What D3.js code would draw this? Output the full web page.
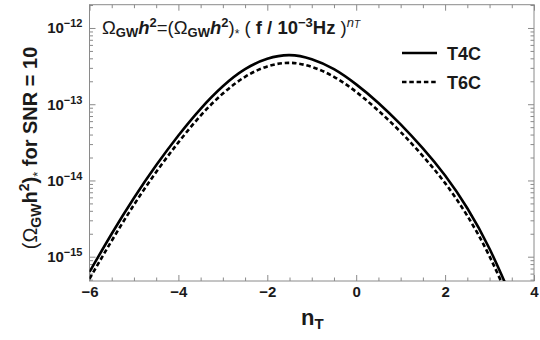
<!DOCTYPE html>
<html>
<head>
<meta charset="utf-8">
<script src="https://cdn.jsdelivr.net/npm/d3@7"></script>
<style>
  html, body { margin: 0; padding: 0; background: #fff; }
  svg { display: block; font-family: "Liberation Sans", Arial, sans-serif; }
</style>
</head>
<body>
<svg id="chart" width="540" height="340"></svg>
<script>
// Spectral index n_T sampled on a 0.5 grid
const nT = [-6.0, -5.5, -5.0, -4.5, -4.0, -3.5, -3.0, -2.5, -2.0, -1.5,
            -1.0, -0.5, 0.0, 0.5, 1.0, 1.5, 2.0, 2.5, 3.0, 3.5];

// (Omega_GW h^2)_* needed for SNR = 10, per detector configuration
const omegaT4C = [6.31e-16, 2.00e-15, 5.89e-15, 1.58e-14, 3.89e-14, 8.71e-14, 1.72e-13, 2.88e-13, 3.94e-13, 4.40e-13,
                  3.89e-13, 2.88e-13, 1.82e-13, 1.04e-13, 5.43e-14, 2.63e-14, 1.16e-14, 4.32e-15, 1.27e-15, 2.85e-16];
const omegaT6C = [5.13e-16, 1.62e-15, 4.79e-15, 1.29e-14, 3.16e-14, 7.08e-14, 1.38e-13, 2.29e-13, 3.13e-13, 3.49e-13,
                  3.09e-13, 2.29e-13, 1.45e-13, 8.22e-14, 4.32e-14, 2.09e-14, 9.23e-15, 3.43e-15, 1.01e-15, 2.26e-16];

const seriesNames = ["T4C", "T6C"];
const xTicks = [-6, -4, -2, 0, 2, 4];
const yTickExponents = [-12, -13, -14, -15];

const svg = d3.select("#chart");
const plotLeft = 89.5, plotRight = 534, plotTop = 4.7, plotBottom = 281;

const x = d3.scaleLinear().domain([-6, 4]).range([plotLeft, plotRight]);
const y = d3.scaleLog().domain([4.8e-16, 2.02e-12]).range([plotBottom, plotTop]);

const frameColor = "#8a8a8a";
const labelColor = "#1a1a1a";

// Minor ticks: every 0.5 in n_T, and 2..9 within each decade
const xMinor = d3.range(-6, 4.001, 0.5).filter(v => !xTicks.includes(v));
const yMajor = yTickExponents.map(e => Math.pow(10, e));
const yMinor = [];
for (let e = -16; e <= -12; e++) {
  for (let m = 2; m <= 9; m++) {
    const v = m * Math.pow(10, e);
    if (v >= 4.8e-16 && v <= 2.02e-12) yMinor.push(v);
  }
}

function styleTicks(g) {
  g.select(".domain").remove();
  g.selectAll(".tick line").attr("stroke", frameColor).attr("stroke-width", 1);
}

// Bottom axis with labels, top axis mirrored without labels
svg.append("g").attr("transform", `translate(0,${plotBottom})`)
  .call(d3.axisBottom(x).tickValues(xTicks).tickSize(-6).tickPadding(5).tickFormat(d3.format("d")))
  .call(styleTicks)
  .call(g => g.selectAll(".tick text")
    .attr("fill", labelColor).attr("font-size", 15).attr("font-weight", "bold")
    .attr("font-family", "Liberation Sans, Arial, sans-serif"));
svg.append("g").attr("transform", `translate(0,${plotBottom})`)
  .call(d3.axisBottom(x).tickValues(xMinor).tickSize(-3.5).tickFormat(""))
  .call(styleTicks);
svg.append("g").attr("transform", `translate(0,${plotTop})`)
  .call(d3.axisTop(x).tickValues(xTicks).tickSize(-6).tickFormat(""))
  .call(styleTicks);
svg.append("g").attr("transform", `translate(0,${plotTop})`)
  .call(d3.axisTop(x).tickValues(xMinor).tickSize(-3.5).tickFormat(""))
  .call(styleTicks);

// Left axis with power-of-ten labels, right axis mirrored
const yAxisLeft = svg.append("g").attr("transform", `translate(${plotLeft},0)`)
  .call(d3.axisLeft(y).tickValues(yMajor).tickSize(-6).tickFormat(""))
  .call(styleTicks);
yAxisLeft.selectAll(".tick").each(function(d) {
  const t = d3.select(this).append("text")
    .attr("x", -7).attr("dy", "0.32em")
    .attr("text-anchor", "end")
    .attr("fill", labelColor).attr("font-size", 15).attr("font-weight", "bold");
  t.append("tspan").text("10");
  t.append("tspan").attr("font-size", 11).attr("dy", -6)
    .text("\u2212" + Math.abs(Math.round(Math.log10(d))));
});
svg.append("g").attr("transform", `translate(${plotLeft},0)`)
  .call(d3.axisLeft(y).tickValues(yMinor).tickSize(-3.5).tickFormat(""))
  .call(styleTicks);
svg.append("g").attr("transform", `translate(${plotRight},0)`)
  .call(d3.axisRight(y).tickValues(yMajor).tickSize(-6).tickFormat(""))
  .call(styleTicks);
svg.append("g").attr("transform", `translate(${plotRight},0)`)
  .call(d3.axisRight(y).tickValues(yMinor).tickSize(-3.5).tickFormat(""))
  .call(styleTicks);

// Plot frame
svg.append("rect")
  .attr("x", plotLeft).attr("y", plotTop)
  .attr("width", plotRight - plotLeft).attr("height", plotBottom - plotTop)
  .attr("fill", "none").attr("stroke", frameColor).attr("stroke-width", 1);

// Curves, clipped to the frame
svg.append("clipPath").attr("id", "plot-clip")
  .append("rect").attr("x", plotLeft).attr("y", plotTop)
  .attr("width", plotRight - plotLeft).attr("height", plotBottom - plotTop);

const line = d3.line()
  .x(d => x(d[0]))
  .y(d => y(d[1]))
  .curve(d3.curveNatural);

const curves = svg.append("g").attr("clip-path", "url(#plot-clip)");
curves.append("path")
  .datum(nT.map((n, i) => [n, omegaT4C[i]]))
  .attr("d", line)
  .attr("fill", "none").attr("stroke", "#000").attr("stroke-width", 2.6);
curves.append("path")
  .datum(nT.map((n, i) => [n, omegaT6C[i]]))
  .attr("d", line)
  .attr("fill", "none").attr("stroke", "#000").attr("stroke-width", 2.6)
  .attr("stroke-dasharray", "4.5,2.8");

// Legend
const legend = svg.append("g");
seriesNames.forEach((name, i) => {
  const ly = 53 + i * 29;
  legend.append("line")
    .attr("x1", 402).attr("x2", 437).attr("y1", ly).attr("y2", ly)
    .attr("stroke", "#000").attr("stroke-width", 2.6)
    .attr("stroke-dasharray", i === 0 ? null : "4.5,2.8");
  legend.append("text")
    .attr("x", 447).attr("y", ly + 6.5)
    .attr("font-size", 18).attr("font-weight", "bold").attr("fill", labelColor)
    .text(name);
});

// Formula annotation inside the frame
const formula = svg.append("text")
  .attr("x", 102).attr("y", 34)
  .attr("font-size", 18.5).attr("fill", labelColor);
function piece(parent, txt, opts = {}) {
  const s = parent.append("tspan").text(txt);
  if (opts.bold) s.attr("font-weight", "bold");
  if (opts.normal) s.attr("font-weight", "normal");
  if (opts.italic) s.attr("font-style", "italic");
  if (opts.size) s.attr("font-size", opts.size);
  if (opts.dy) s.attr("dy", opts.dy);
  return s;
}
piece(formula, "\u03A9");
piece(formula, "GW", { bold: true, size: 13, dy: 3 });
piece(formula, "h", { bold: true, italic: true, dy: -3 });
piece(formula, "2", { bold: true, size: 13, dy: -7.5 });
piece(formula, "=(\u03A9", { dy: 7.5 });
piece(formula, "GW", { bold: true, size: 13, dy: 3 });
piece(formula, "h", { bold: true, italic: true, dy: -3 });
piece(formula, "2", { bold: true, size: 13, dy: -7.5 });
piece(formula, ")", { dy: 7.5 });
piece(formula, "*", { size: 12, dy: 4 });
piece(formula, " ( ", { dy: -4 });
piece(formula, "f / 10", { bold: true });
piece(formula, "\u22123", { bold: true, size: 13, dy: -7.5 });
piece(formula, "Hz", { bold: true, dy: 7.5 });
piece(formula, " )", {});
piece(formula, "n", { italic: true, size: 13, dy: -7.5 });
piece(formula, "T", { italic: true, size: 10, dy: 1 });

// Axis titles
const xTitle = svg.append("text")
  .attr("x", 301).attr("y", 325)
  .attr("font-size", 22).attr("font-weight", "bold").attr("fill", labelColor);
xTitle.append("tspan").text("n");
xTitle.append("tspan").attr("font-size", 15).attr("dy", 4).text("T");

const yTitle = svg.append("text")
  .attr("transform", "translate(37,148) rotate(-90)")
  .attr("text-anchor", "middle")
  .attr("font-size", 20).attr("font-weight", "bold").attr("fill", labelColor);
piece(yTitle, "(\u03A9", { normal: true });
piece(yTitle, "GW", { bold: true, size: 14, dy: 4 });
piece(yTitle, "h", { bold: true, dy: -4 });
piece(yTitle, "2", { bold: true, size: 14, dy: -8 });
piece(yTitle, ")", { bold: true, dy: 8 });
piece(yTitle, "*", { size: 13, dy: 5, normal: true });
piece(yTitle, " for SNR = 10", { bold: true, dy: -5 });
</script>
</body>
</html>
